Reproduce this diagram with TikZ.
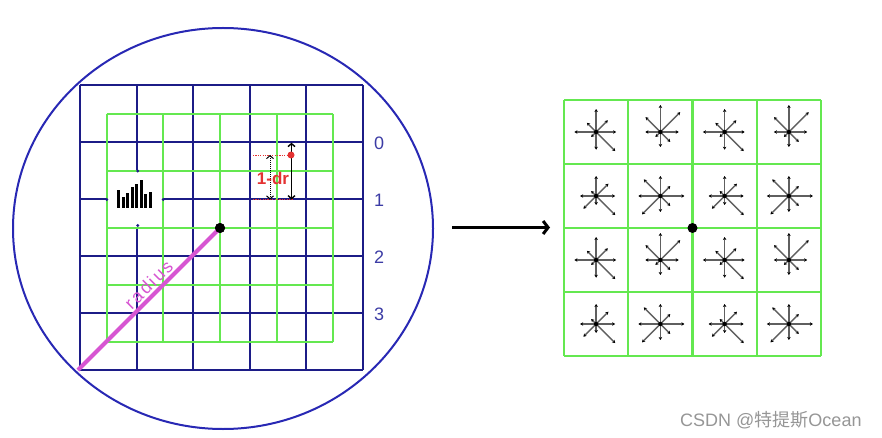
\documentclass[tikz,border=0pt]{standalone}
\usepackage{fontspec}
\setmainfont{Liberation Sans}
\newfontfamily\cjk{Noto Sans CJK SC}
\newfontfamily\spaced[LetterSpace=12]{Liberation Sans}
\usetikzlibrary{arrows.meta}
\definecolor{navy}{RGB}{28,28,135}
\definecolor{circblue}{RGB}{40,40,180}
\definecolor{lblue}{RGB}{60,60,165}
\definecolor{grn}{RGB}{100,232,80}
\definecolor{mag}{RGB}{215,85,210}
\definecolor{rd}{RGB}{228,50,50}
\definecolor{wm}{RGB}{150,150,150}
\definecolor{stargray}{RGB}{95,95,95}
\tikzset{
  bluegrid/.style={navy, line width=2pt},
  greengrid/.style={grn, line width=2pt},
  greenright/.style={grn, line width=2.4pt},
  rowlbl/.style={text=lblue, inner sep=0pt, font=\fontsize{18}{18}\selectfont},
  bigdot/.style={circle, fill=black, inner sep=0pt, minimum size=10pt},
  stararrow/.style={stargray, line width=1.3pt, -{Stealth[length=3pt,width=3.5pt,black]}},
  smalltip/.style={line width=1.4pt, {Straight Barb[length=3pt,width=7pt]}-{Straight Barb[length=3pt,width=7pt]}},
  reddots/.style={rd, line width=0.9pt, dash pattern=on 1.2pt off 1.2pt},
}
\newcommand{\drawstar}[4]{% x, y, pattern lengths list (8), name
  \begin{scope}[shift={(#1,#2)}, yscale=-1]
    \coordinate (#4) at (0,0);
    \foreach \L [count=\k from 0] in {#3} {
      \draw[stararrow] (#4) -- (\k*45:\L);
    }
    \fill[black] (#4) circle (2.2pt);
  \end{scope}
}
\begin{document}
\begin{tikzpicture}[x=1pt,y=-1pt]
\useasboundingbox (0,0) rectangle (882,438);
\fill[white] (0,0) rectangle (882,438);

% ---------- left panel ----------
\draw[circblue, line width=2pt] (223,228.5) ellipse [x radius=210pt, y radius=200.5pt];

% blue grid 5x5
\foreach \i in {0,...,5} {
  \draw[bluegrid] ({80+56.6*\i},85) -- ({80+56.6*\i},370);
  \draw[bluegrid] (80,{85+57*\i}) -- (363,{85+57*\i});
}
% blank histogram cell
\fill[white] (108,172.3) rectangle (162,226.7);
% green grid 4x4
\foreach \i in {0,...,4} {
  \draw[greengrid] ({106.7+56.6*\i},114) -- ({106.7+56.6*\i},342);
  \draw[greengrid] (106.7,{114+57*\i}) -- (333.1,{114+57*\i});
}
% stubs of blue lines at the blank cell
\foreach \p in {(137.7,171),(137.7,225.5),(106.7,199.5),(163.3,199.5)}
  \fill[navy] \p circle (1.6pt);
% histogram icon
\foreach \x/\t in {117/190,121.5/197,126/193,130.5/187,135/184,139.5/180,144/194,148.5/192}
  \fill[black] (\x,\t) rectangle ++(3.4,208-\t);

% row labels
\node[rowlbl] (r0) at (379,143) {0};
\node[rowlbl] (r1) at (379,200) {1};
\node[rowlbl] (r2) at (379,257) {2};
\node[rowlbl] (r3) at (379,314) {3};

% radius
\coordinate (corner) at (78,370);
\node[bigdot] (ctr) at (220,228) {};
\draw[mag, line width=4pt] (corner) -- node[pos=0.55, sloped, above=2pt, text=mag, inner sep=0pt,
  font=\spaced\fontsize{18}{18}\selectfont] (radlbl) {radius} (ctr.center);
\node[bigdot] at (ctr) {};

% 1-dr annotation
\coordinate (ttop) at (291.5,142.7);
\coordinate (tbot) at (291.5,199.5);
\coordinate (dtop) at (270,155);
\coordinate (dbot) at (270,199.5);
\coordinate (rl1) at (253,155);
\coordinate (rl2) at (253,199.5);
\coordinate (rr2) at (293,199.5);
\draw[reddots] (rl1) -- (291,155);
\draw[reddots] (rl2) -- (rr2);
\draw[smalltip, black] (ttop) -- (tbot);
\draw[smalltip, black, line width=1pt, dash pattern=on 1pt off 1pt] (dtop) -- (dbot);
\node[circle, fill=rd, inner sep=0pt, minimum size=7pt] (rdot) at (291,155) {};
\node[text=rd, inner sep=0pt, font=\bfseries\fontsize{17}{17}\selectfont] (dr) at (273,178) {1-dr};

% ---------- arrow ----------
\coordinate (aS) at (452,227.5);
\coordinate (aE) at (550,227.5);
\draw[black, line width=3pt, -{Straight Barb[length=5pt,width=13pt]}] (aS) -- (aE);

% ---------- right panel ----------
\foreach \i in {0,...,4} {
  \draw[greenright] ({564+64.25*\i},100) -- ({564+64.25*\i},356);
  \draw[greenright] (564,{100+64*\i}) -- (821,{100+64*\i});
}
\foreach \r in {0,1,2,3} {
  \foreach \c in {0,1,2,3} {
    \pgfmathtruncatemacro{\pr}{mod(\r,2)}
    \pgfmathtruncatemacro{\pc}{mod(\c,2)}
    \pgfmathsetmacro{\cx}{564+64.25*(\c+0.5)}
    \pgfmathsetmacro{\cy}{100+64*(\r+0.5)}
    \ifnum\pr=0
      \ifnum\pc=0
        \drawstar{\cx}{\cy}{20,16.5,23,13,21.7,7,17.7,27}{s\r\c}
      \else
        \drawstar{\cx}{\cy}{18.3,28,27,21,15,7,15,14}{s\r\c}
      \fi
    \else
      \ifnum\pc=0
        \drawstar{\cx}{\cy}{19,17.4,20,7,16,18,9,27}{s\r\c}
      \else
        \drawstar{\cx}{\cy}{24,14,20,23.5,22,26,16,14}{s\r\c}
      \fi
    \fi
  }
}
\node[bigdot] (rctr) at (692.5,228) {};

% watermark
\node[anchor=west, text=wm, inner sep=0pt, font=\fontsize{18}{18}\selectfont] (wmk) at (680,420) {CSDN @{\cjk 特提斯}Ocean};
\end{tikzpicture}
\end{document}
